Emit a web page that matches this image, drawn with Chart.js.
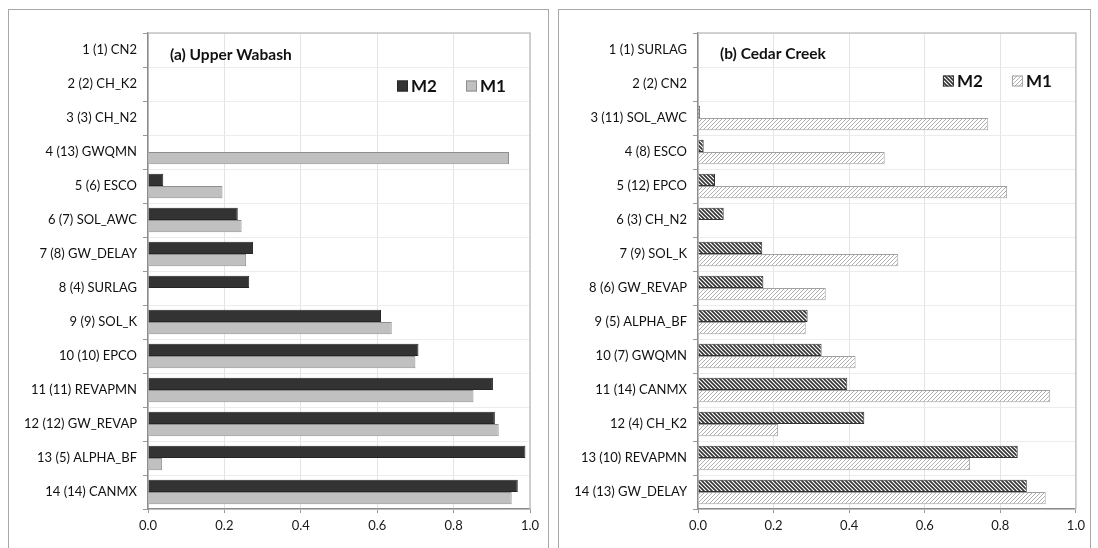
<!DOCTYPE html>
<html>
<head>
<meta charset="utf-8">
<script src="https://cdn.jsdelivr.net/npm/chart.js@4"></script>
<style>
  body{margin:0;background:#fff;width:1098px;height:548px;overflow:hidden;position:relative;font-family:Lato,sans-serif;}
  .panel{position:absolute;top:9px;height:560px;border:1px solid #a8a8a8;box-sizing:border-box;}
  #pa{left:8px;width:541px;}
  #pb{left:558px;width:533px;}
  .panel canvas{position:absolute;left:0;top:0;}
</style>
</head>
<body>
<div class="panel" id="pa"><canvas id="chartA" width="539" height="538"></canvas></div>
<div class="panel" id="pb"><canvas id="chartB" width="531" height="538"></canvas></div>
<script>
// (a) Upper Wabash
const labelsA = ["1 (1) CN2","2 (2) CH_K2","3 (3) CH_N2","4 (13) GWQMN","5 (6) ESCO","6 (7) SOL_AWC","7 (8) GW_DELAY","8 (4) SURLAG","9 (9) SOL_K","10 (10) EPCO","11 (11) REVAPMN","12 (12) GW_REVAP","13 (5) ALPHA_BF","14 (14) CANMX"];
const m2A = [0, 0, 0, 0, 0.04, 0.235, 0.275, 0.265, 0.61, 0.708, 0.903, 0.908, 0.988, 0.968];
const m1A = [0, 0, 0, 0.945, 0.195, 0.245, 0.257, 0.003, 0.638, 0.70, 0.852, 0.918, 0.037, 0.952];

// (b) Cedar Creek
const labelsB = ["1 (1) SURLAG","2 (2) CN2","3 (11) SOL_AWC","4 (8) ESCO","5 (12) EPCO","6 (3) CH_N2","7 (9) SOL_K","8 (6) GW_REVAP","9 (5) ALPHA_BF","10 (7) GWQMN","11 (14) CANMX","12 (4) CH_K2","13 (10) REVAPMN","14 (13) GW_DELAY"];
const m2B = [0, 0, 0.005, 0.015, 0.045, 0.068, 0.17, 0.173, 0.29, 0.327, 0.395, 0.44, 0.846, 0.87];
const m1B = [0, 0, 0.768, 0.494, 0.818, 0.003, 0.53, 0.338, 0.285, 0.417, 0.932, 0.212, 0.72, 0.92];

const xTicks = [0, 0.2, 0.4, 0.6, 0.8, 1.0];
const seriesNames = ["M2", "M1"];

function hatch(color, back, lw){
  var c = document.createElement('canvas');
  c.width = 4; c.height = 4;
  var g = c.getContext('2d');
  g.fillStyle = '#fff'; g.fillRect(0,0,4,4);
  g.strokeStyle = color; g.lineWidth = lw;
  g.beginPath();
  if (back){
    g.moveTo(-1,-1); g.lineTo(5,5);
    g.moveTo(-1,3); g.lineTo(1,5);
    g.moveTo(3,-1); g.lineTo(5,1);
  } else {
    g.moveTo(-1,5); g.lineTo(5,-1);
    g.moveTo(-1,1); g.lineTo(1,-1);
    g.moveTo(3,5); g.lineTo(5,3);
  }
  g.stroke();
  return g.createPattern(c, 'repeat');
}

const FONT = "Lato, 'Open Sans', sans-serif";

// title + legend drawn inside plot area, and plot frame
const insidePlugin = {
  id: 'inside',
  beforeDatasetsDraw(chart, args, opts){
    const a = chart.chartArea, ctx = chart.ctx;
    ctx.save();
    ctx.strokeStyle = '#c4c4c4'; ctx.lineWidth = 1.5;
    ctx.beginPath();
    ctx.moveTo(a.left, a.top); ctx.lineTo(a.right, a.top); ctx.lineTo(a.right, a.bottom);
    ctx.stroke();
    ctx.restore();
  },
  afterDraw(chart, args, opts){
    const a = chart.chartArea, ctx = chart.ctx;
    ctx.save();
    ctx.fillStyle = '#111';
    ctx.font = "bold 15.5px " + FONT;
    ctx.textBaseline = 'middle';
    ctx.fillText(opts.title, a.left + opts.titleX, a.top + opts.titleY);
    const offs = [133, 64];
    chart.data.datasets.forEach((ds, i) => {
      const x = a.right - offs[i], y = a.top + opts.legendY;
      ctx.fillStyle = ds.backgroundColor;
      ctx.fillRect(x, y - 5.5, 11, 11);
      ctx.strokeStyle = ds.borderColor; ctx.lineWidth = 1;
      ctx.strokeRect(x + 0.5, y - 5, 10, 10);
      ctx.fillStyle = '#111';
      ctx.font = "bold 17px " + FONT;
      ctx.fillText(ds.label, x + 14, y + 1);
    });
    ctx.restore();
  }
};

function makeChart(id, labels, m2, m1, m2Style, m1Style, title, titleY, legendY, rightPad){
  return new Chart(document.getElementById(id), {
    type: 'bar',
    data: {
      labels: labels,
      datasets: [
        Object.assign({label: seriesNames[0], data: m2, borderWidth: 1}, m2Style),
        Object.assign({label: seriesNames[1], data: m1, borderWidth: 1}, m1Style)
      ]
    },
    options: {
      indexAxis: 'y',
      responsive: false,
      animation: false,
      events: [],
      layout: {padding: {top: 23, right: rightPad, bottom: 8, left: 0}},
      categoryPercentage: 0.72,
      barPercentage: 1.0,
      plugins: {
        legend: {display: false},
        tooltip: {enabled: false},
        inside: {title: title, titleX: 22, titleY: titleY, legendY: legendY}
      },
      scales: {
        x: {
          min: 0, max: 1,
          afterBuildTicks: s => { s.ticks = xTicks.map(v => ({value: v})); },
          afterFit: s => { s.height = 31; },
          grid: {color: '#e4e4e4', tickColor: '#999', tickLength: 4},
          border: {color: '#8c8c8c', width: 1.5},
          ticks: {color: '#1a1a1a', font: {family: FONT, size: 13}, padding: 5,
                  callback: v => Number(v).toFixed(1)}
        },
        y: {
          afterFit: s => { s.width = 139; },
          grid: {color: '#ececec', tickColor: '#999', tickLength: 5},
          border: {color: '#8c8c8c', width: 1.5},
          ticks: {color: '#111', font: {family: FONT, size: 13}, padding: 6}
        }
      }
    },
    plugins: [insidePlugin]
  });
}

makeChart('chartA', labelsA, m2A, m1A,
  {backgroundColor: '#333333', borderColor: '#262626'},
  {backgroundColor: '#c0c0c0', borderColor: '#8e8e8e'},
  '(a) Upper Wabash', 22, 53, 18);

makeChart('chartB', labelsB, m2B, m1B,
  {backgroundColor: hatch('#333', true, 1.6), borderColor: '#333'},
  {backgroundColor: hatch('#b0b0b0', false, 1), borderColor: '#a0a0a0'},
  '(b) Cedar Creek', 21, 48, 13);
</script>
</body>
</html>
